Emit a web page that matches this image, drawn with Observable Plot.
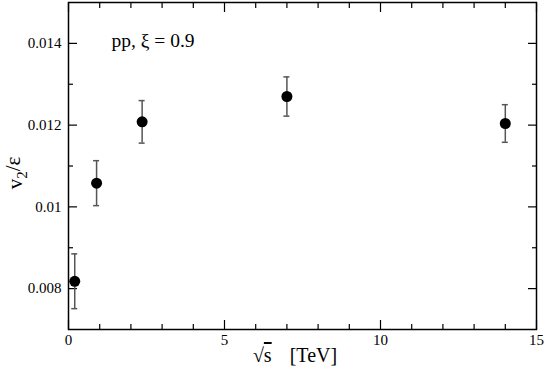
<!DOCTYPE html>
<html><head><meta charset="utf-8">
<script src="https://cdn.jsdelivr.net/npm/d3@7"></script>
<script src="https://cdn.jsdelivr.net/npm/@observablehq/plot@0.6"></script>
<style>
body{margin:0;background:#fff}
</style>
</head><body><div id="chart"></div>
<script>
const energies = [0.2, 0.9, 2.36, 7, 14];
const ratio = [0.00818, 0.01058, 0.01208, 0.01270, 0.01204];
const errors = [0.00067, 0.00055, 0.00052, 0.00048, 0.00046];
const xMajor = [0, 5, 10, 15];
const xMinor = [1, 2, 3, 4, 6, 7, 8, 9, 11, 12, 13, 14];
const yMajor = [0.008, 0.010, 0.012, 0.014];
const yMinor = [0.009, 0.011, 0.013];
const yTickLabels = ["0.008", "0.01", "0.012", "0.014"];
const annotation = "pp, ξ = 0.9";

const FONT = "'Liberation Serif', 'Times New Roman', serif";
const data = energies.map((x, i) => ({x, y: ratio[i], lo: ratio[i] - errors[i], hi: ratio[i] + errors[i]}));

const tickOpts = {fill: "none", label: null, stroke: "#000", strokeWidth: 1.2};
const plot = Plot.plot({
  width: 545, height: 369,
  marginTop: 2, marginRight: 9, marginBottom: 40, marginLeft: 68,
  style: {fontFamily: FONT, fontSize: "15px", color: "#000", background: "#fff"},
  x: {domain: [0, 15]},
  y: {domain: [0.007, 0.015]},
  marks: [
    Plot.axisX(xMajor, {anchor: "bottom", tickSize: 0, tickPadding: 5, label: null, fontSize: 15, fontFamily: FONT, tickFormat: d => String(d)}),
    Plot.axisY(yMajor, {anchor: "left", tickSize: 0, tickPadding: 7, label: null, fontSize: 15, fontFamily: FONT, tickFormat: d => yTickLabels[yMajor.indexOf(d)]}),
    Plot.axisX(xMajor, {...tickOpts, anchor: "bottom", tickSize: 9, dy: -9}),
    Plot.axisX(xMinor, {...tickOpts, anchor: "bottom", tickSize: 5, dy: -5}),
    Plot.axisX(xMajor, {...tickOpts, anchor: "top", tickSize: 9, dy: 9}),
    Plot.axisX(xMinor, {...tickOpts, anchor: "top", tickSize: 5, dy: 5}),
    Plot.axisY(yMajor, {...tickOpts, anchor: "left", tickSize: 9, dx: 9}),
    Plot.axisY(yMinor, {...tickOpts, anchor: "left", tickSize: 5, dx: 5}),
    Plot.axisY(yMajor, {...tickOpts, anchor: "right", tickSize: 9, dx: -9}),
    Plot.axisY(yMinor, {...tickOpts, anchor: "right", tickSize: 5, dx: -5}),
    Plot.frame({stroke: "#000", strokeWidth: 1.5}),
    Plot.ruleX(data, {x: "x", y1: "lo", y2: "hi", stroke: "#555", strokeWidth: 1.5}),
    Plot.ruleY(data, {x1: "x", x2: "x", y: "lo", insetLeft: -3, insetRight: -3, stroke: "#555", strokeWidth: 1.5}),
    Plot.ruleY(data, {x1: "x", x2: "x", y: "hi", insetLeft: -3, insetRight: -3, stroke: "#555", strokeWidth: 1.5}),
    Plot.dot(data, {x: "x", y: "y", r: 5.5, fill: "#000", stroke: "none"}),
    Plot.text([annotation], {frameAnchor: "top-left", dx: 43, dy: 38, textAnchor: "start", lineAnchor: "middle", fontSize: 19.5, fontFamily: FONT, fill: "#000"})
  ]
});
document.getElementById("chart").append(plot);

const svg = d3.select(plot);
const yl = svg.append("text")
  .attr("transform", "translate(22,173) rotate(-90)")
  .attr("text-anchor", "middle")
  .attr("font-family", FONT)
  .attr("font-size", 21).attr("fill", "#000");
yl.append("tspan").text("v");
yl.append("tspan").attr("font-size", 15).attr("dy", "0.35em").text("2");
yl.append("tspan").attr("dy", "-0.35em").text("/ε");

const xl = svg.append("text")
  .attr("x", 295).attr("y", 362)
  .attr("text-anchor", "middle")
  .attr("font-family", FONT)
  .attr("font-size", 20).attr("fill", "#000");
xl.append("tspan").text("√");
xl.append("tspan").attr("text-decoration", "overline").text("s");
xl.append("tspan").attr("dx", 18).text("[TeV]");
</script>
</body></html>
